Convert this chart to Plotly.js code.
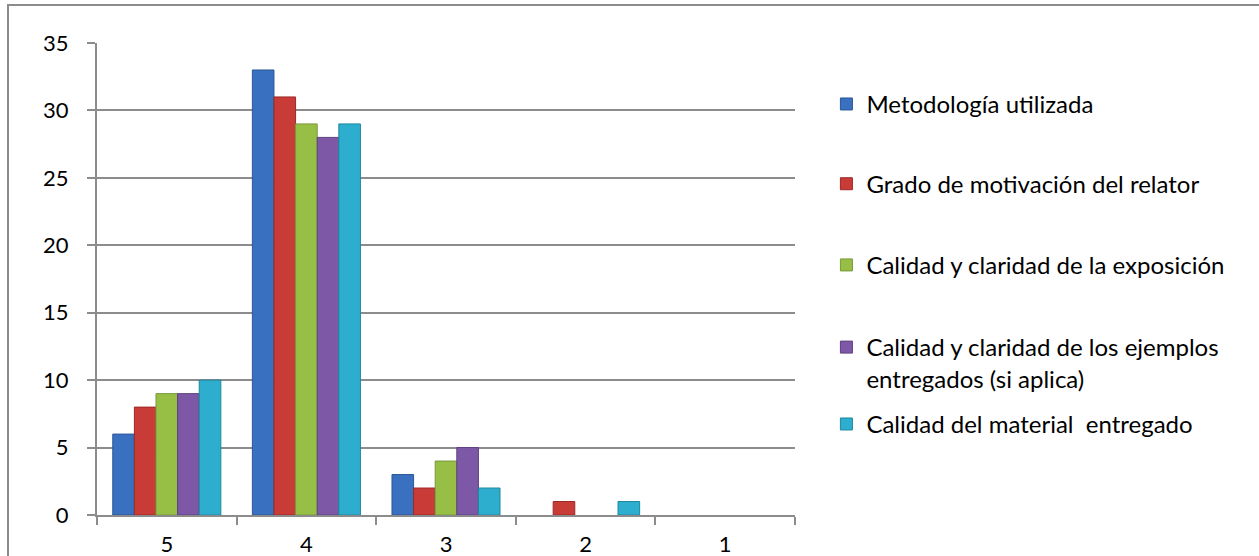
<!DOCTYPE html>
<html>
<head>
<meta charset="utf-8">
<script src="https://cdn.plot.ly/plotly-3.0.1.min.js"></script>
<style>
  html, body { margin: 0; padding: 0; background: #ffffff; overflow: hidden; }
  #frame { position: absolute; left: 7px; top: 4px; width: 1252px; height: 552px;
           border-left: 2px solid #8c8c8c; border-top: 2px solid #8c8c8c; }
  #chart { position: absolute; left: 0; top: 0; width: 1251px; height: 552px; }
</style>
</head>
<body>
<div id="frame"><div id="chart"></div></div>
<script>
const categories = ["5", "4", "3", "2", "1"];
const seriesNames = [
  "Metodología utilizada",
  "Grado de motivación del relator",
  "Calidad y claridad de la exposición",
  "Calidad y claridad de los ejemplos<br>entregados (si aplica)",
  "Calidad del material  entregado"
];
const metodologia = [6, 33, 3, 0, 0];
const motivacion = [8, 31, 2, 1, 0];
const exposicion = [9, 29, 4, 0, 0];
const ejemplos = [9, 28, 5, 0, 0];
const material = [10, 29, 2, 1, 0];
const yTicks = [0, 5, 10, 15, 20, 25, 30, 35];

const seriesValues = [metodologia, motivacion, exposicion, ejemplos, material];
const fills = ["#3a70c0", "#c93b36", "#98bf45", "#7c58a6", "#2eaecf"];
const edges = ["#2b5796", "#9c2a27", "#77983a", "#5d4180", "#1f879f"];
const legendIds = ["legend", "legend2", "legend3", "legend4", "legend5"];
const legendY = [0.870, 0.701, 0.529, 0.322, 0.192];

const FONT = "Lato, 'Open Sans', sans-serif";
const FSIZE = 24;

const traces = seriesValues.map((vals, i) => ({
  type: "bar",
  x: categories,
  y: vals,
  name: seriesNames[i],
  legend: legendIds[i],
  marker: {
    color: fills[i],
    line: { color: edges[i], width: vals.map(v => (v > 0 ? 1 : 0)) }
  },
  hoverinfo: "x+y+name"
}));

const layout = {
  width: 1251,
  height: 552,
  margin: { l: 88, r: 465, t: 37, b: 43 },
  paper_bgcolor: "#ffffff",
  plot_bgcolor: "#ffffff",
  font: { family: FONT, size: FSIZE, color: "#000000" },
  barmode: "group",
  bargap: 0.226,
  bargroupgap: 0,
  xaxis: {
    type: "category",
    categoryorder: "array",
    categoryarray: categories,
    showgrid: false,
    showline: true,
    linecolor: "#8c8c8c",
    linewidth: 2,
    ticks: "outside",
    tickson: "boundaries",
    ticklen: 8,
    tickwidth: 2,
    tickcolor: "#8c8c8c",
    ticklabelstandoff: 9,
    tickfont: { family: FONT, size: 22, color: "#000000" },
    zeroline: false
  },
  yaxis: {
    range: [0, 35],
    tickvals: yTicks,
    ticktext: yTicks.map(String),
    showgrid: true,
    gridcolor: "#8c8c8c",
    gridwidth: 2,
    showline: true,
    linecolor: "#8c8c8c",
    linewidth: 2,
    ticks: "outside",
    ticklen: 8,
    tickwidth: 2,
    tickcolor: "#8c8c8c",
    ticklabelstandoff: 14,
    tickfont: { family: FONT, size: 22, color: "#000000" },
    zeroline: false
  },
  showlegend: true
};

legendIds.forEach((id, i) => {
  layout[id] = {
    x: 1.045,
    xanchor: "left",
    y: legendY[i],
    yanchor: "middle",
    bgcolor: "rgba(0,0,0,0)",
    borderwidth: 0,
    valign: "top",
    itemwidth: 30,
    font: { family: FONT, size: FSIZE, color: "#000000" }
  };
});

Plotly.newPlot("chart", traces, layout, { displayModeBar: false, staticPlot: true });
</script>
</body>
</html>
